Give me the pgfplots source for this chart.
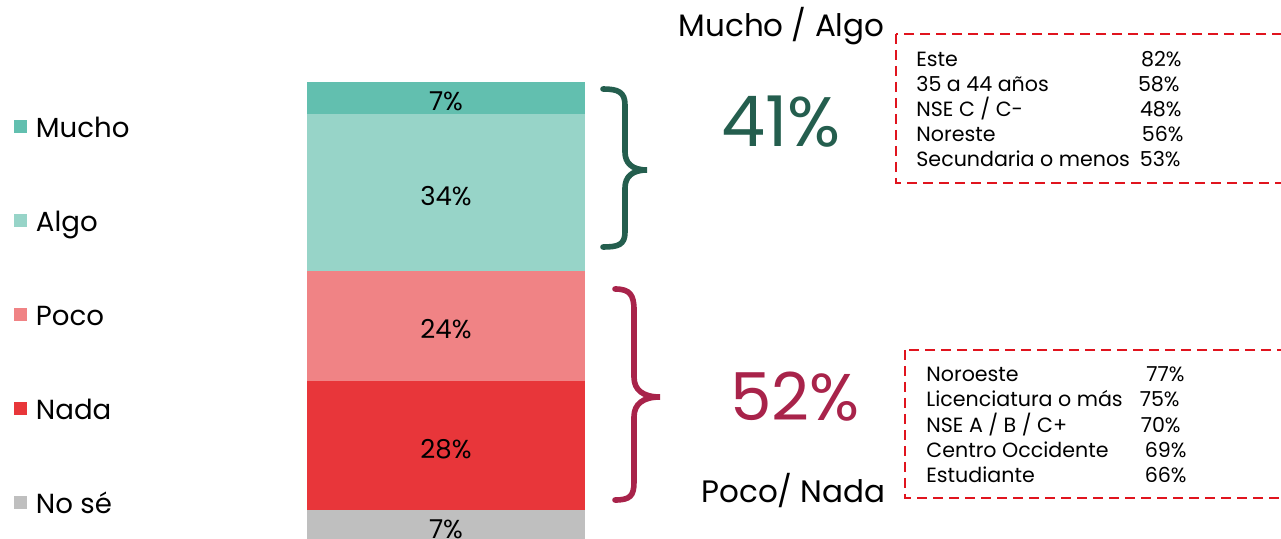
\documentclass[border=0pt]{standalone}
\usepackage{pgfplots}
\pgfplotsset{compat=1.18}
\usepackage{fontspec}
\setmainfont{Poppins}
\definecolor{cMucho}{RGB}{98,191,175}
\definecolor{cAlgo}{RGB}{151,212,200}
\definecolor{cPoco}{RGB}{240,131,133}
\definecolor{cNada}{RGB}{232,54,58}
\definecolor{cNose}{RGB}{191,191,191}
\definecolor{cGreen}{RGB}{36,94,78}
\definecolor{cWine}{RGB}{168,35,74}
\definecolor{cDash}{RGB}{224,20,30}
\begin{document}
\begin{tikzpicture}
\useasboundingbox (0pt,0pt) rectangle (640.5pt,-269.5pt);
\clip (0pt,0pt) rectangle (640.5pt,-269.5pt);
\begin{axis}[
  at={(153.5pt,-271pt)}, anchor=south west,
  scale only axis, width=139pt, height=230pt,
  xmin=0, xmax=1, ymin=0, ymax=100,
  hide axis,
  ybar stacked, bar width=139pt,
  point meta=explicit,
  /pgf/number format/assume math mode=true,
  nodes near coords={\pgfmathprintnumber{\pgfplotspointmeta}\%},
  every node near coord/.append style={anchor=center, yshift=-1.8pt, font=\fontsize{13}{16}\selectfont, text=black},
  legend style={at={(-1.054,0.9826)}, anchor=north west, draw=none, fill=none,
    inner sep=0pt, outer sep=0pt, row sep=0pt,
    font=\fontsize{13.8}{17}\selectfont,
    nodes={inner sep=0pt, text height=23.5pt, text depth=23.5pt}},
  reverse legend,
  legend cell align=left,
  legend image code/.code={\fill[#1] (0pt,2pt) rectangle (6.5pt,8.5pt);},
]
\addplot[fill=cNose, draw=none] coordinates {(0.5,7) [7]};
\addlegendentry{\hspace*{4.5pt}No sé}
\addplot[fill=cNada, draw=none] coordinates {(0.5,28) [28]};
\addlegendentry{\hspace*{4.5pt}Nada}
\addplot[fill=cPoco, draw=none] coordinates {(0.5,24) [24]};
\addlegendentry{\hspace*{4.5pt}Poco}
\addplot[fill=cAlgo, draw=none] coordinates {(0.5,34) [34]};
\addlegendentry{\hspace*{4.5pt}Algo}
\addplot[fill=cMucho, draw=none] coordinates {(0.5,7) [7]};
\addlegendentry{\hspace*{4.5pt}Mucho}
\end{axis}
\begin{scope}[x=0.5pt,y=-0.5pt]
% braces
\draw[cGreen, line width=2.8pt, line cap=round]
  (603,89) .. controls (618,89) and (625,92) .. (625,105) -- (625,152)
  .. controls (625,163) and (632,170) .. (647,170)
  .. controls (632,170) and (625,177) .. (625,188) -- (625,232)
  .. controls (625,245) and (618,247) .. (603,247);
\draw[cWine, line width=2.8pt, line cap=round]
  (615,289) .. controls (630,289) and (634,295) .. (634,310) -- (634,377)
  .. controls (634,390) and (643,397) .. (660,397)
  .. controls (643,397) and (634,404) .. (634,417) -- (634,482)
  .. controls (634,496) and (630,500) .. (615,500);
% headers
\node[anchor=base, inner sep=0pt, font=\fontsize{15.5}{18}\selectfont] at (781.5,37) {Mucho / Algo};
\node[anchor=base, inner sep=0pt, font=\fontsize{15.5}{18}\selectfont] at (793.5,503) {Poco/ Nada};
\node[inner sep=0pt, text=cGreen, font=\fontsize{35}{40}\selectfont] at (781,122) {41\%};
\node[inner sep=0pt, text=cWine, font=\fontsize{33}{38}\selectfont] at (795,397) {52\%};
% boxes
\draw[cDash, line width=1pt, dash pattern=on 5pt off 3pt] (896,34) rectangle (1300,183);
\draw[cDash, line width=1pt, dash pattern=on 5pt off 3pt] (905,350) rectangle (1300,498);
\begin{scope}[every node/.style={inner sep=0pt, font=\fontsize{10.3}{12}\selectfont}]
\node[anchor=base west] at (916,66.7) {Este};
\node[anchor=base west] at (916,91.7) {35 a 44 años};
\node[anchor=base west] at (916,116.7) {NSE C / C-};
\node[anchor=base west] at (916,141.7) {Noreste};
\node[anchor=base west] at (916,166.7) {Secundaria o menos};
\node[anchor=base east] at (1182,66.7) {82\%};
\node[anchor=base east] at (1180,91.7) {58\%};
\node[anchor=base east] at (1182,116.7) {48\%};
\node[anchor=base east] at (1184,141.7) {56\%};
\node[anchor=base east] at (1181,166.7) {53\%};
\node[anchor=base west] at (926,381.7) {Noroeste};
\node[anchor=base west] at (926,407) {Licenciatura o más};
\node[anchor=base west] at (926,432.3) {NSE A / B / C+};
\node[anchor=base west] at (926,457.7) {Centro Occidente};
\node[anchor=base west] at (926,483) {Estudiante};
\node[anchor=base east] at (1185,381.7) {77\%};
\node[anchor=base east] at (1180,407) {75\%};
\node[anchor=base east] at (1181,432.3) {70\%};
\node[anchor=base east] at (1187,457.7) {69\%};
\node[anchor=base east] at (1187,483) {66\%};
\end{scope}
\end{scope}
\end{tikzpicture}
\end{document}
